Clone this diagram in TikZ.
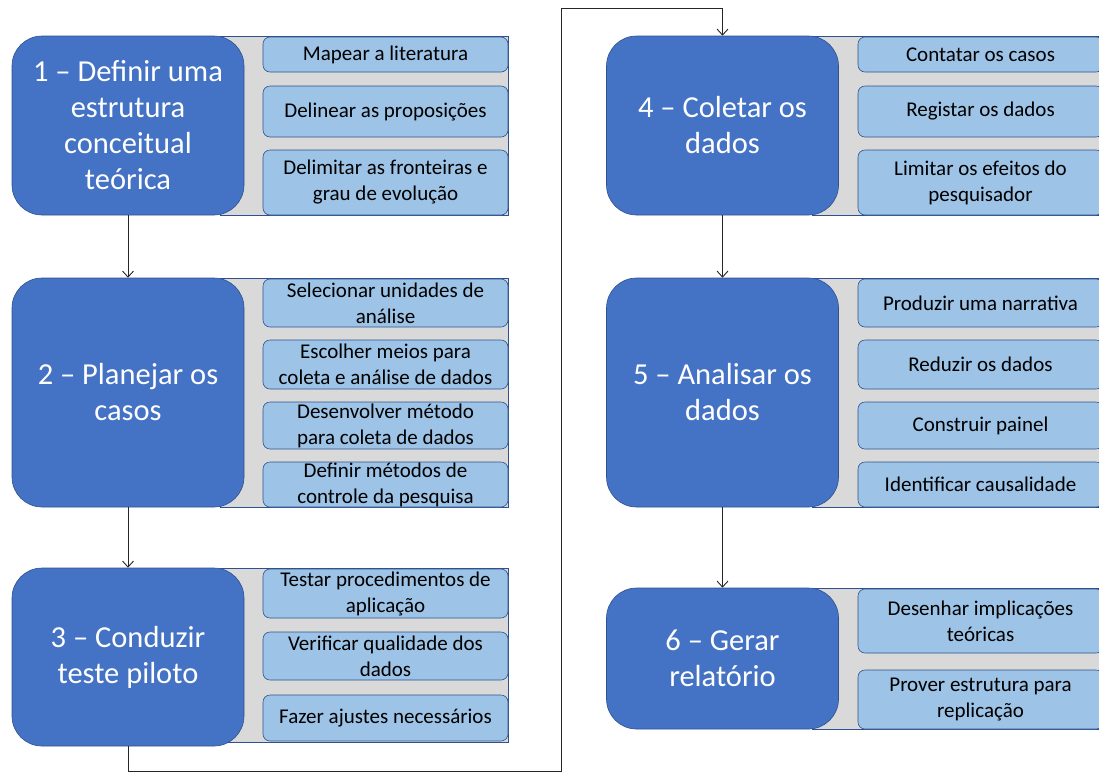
\documentclass[tikz,border=0pt]{standalone}
\usepackage{fontspec}
\setmainfont{Carlito}
\usetikzlibrary{arrows,arrows.meta,positioning}
\definecolor{stepblue}{HTML}{4472C4}
\definecolor{taskblue}{HTML}{9DC3E6}
\definecolor{edgeblue}{HTML}{2F528F}
\definecolor{panelgray}{HTML}{D9D9D9}
\begin{document}
\begin{tikzpicture}[x=1pt,y=-1pt,>={Straight Barb[length=6pt,width=11pt]}]
    \tikzstyle{phase}=[rectangle,rounded corners=30pt,fill=stepblue,draw=edgeblue,line width=0.6pt,
        text=white,minimum width=232pt,inner sep=0pt,align=center,font=\fontsize{30.5}{36}\selectfont]
    \tikzstyle{task}=[rectangle,rounded corners=7pt,fill=taskblue,draw=edgeblue,line width=0.6pt,
        minimum width=245pt,inner sep=0pt,align=center,font=\fontsize{21}{26}\selectfont]
    \tikzstyle{panel}=[fill=panelgray,draw=edgeblue,line width=0.6pt]
    \tikzstyle{flow}=[->,draw=black!85,line width=0.9pt]

    \useasboundingbox (0,0) rectangle (1099,772);
    \clip (0,0) rectangle (1099,772);

    % Grey panels behind each phase
    \draw[panel] (220,36) rectangle (508,215);
    \draw[panel] (220,278) rectangle (508,507);
    \draw[panel] (220,568) rectangle (508,742);
    \draw[panel] (812,36) rectangle (1103,215);
    \draw[panel] (812,278) rectangle (1103,507);
    \draw[panel] (812,588) rectangle (1103,729);

    % The six phases
    \node[phase,minimum height=179pt] (P-1) at (128,125.5) {1 -- Definir uma\\estrutura\\conceitual\\teórica};
    \node[phase,minimum height=229pt] (P-2) at (128,392.5) {2 -- Planejar os\\casos};
    \node[phase,minimum height=178pt] (P-3) at (128,657) {3 -- Conduzir\\teste piloto};
    \node[phase,minimum height=179pt] (P-4) at (722.5,125.5) {4 -- Coletar os\\dados};
    \node[phase,minimum height=229pt] (P-5) at (722.5,392.5) {5 -- Analisar os\\dados};
    \node[phase,minimum height=141pt] (P-6) at (722.5,658.5) {6 -- Gerar\\relatório};

    % Tasks of the left column
    \foreach \name/\y/\h/\txt in {
        1a/54.5/35/{Mapear a literatura},
        1b/111.5/51/{Delinear as proposições},
        1c/182.5/65/{Delimitar as fronteiras e\\grau de evolução},
        2a/303/48/{Selecionar unidades de\\análise},
        2b/364.5/49/{Escolher meios para\\coleta e análise de dados},
        2c/425.5/47/{Desenvolver método\\para coleta de dados},
        2d/484.5/45/{Definir métodos de\\controle da pesquisa},
        3a/593.5/49/{Testar procedimentos de\\aplicação},
        3b/656/48/{Verificar qualidade dos\\dados},
        3c/718/46/{Fazer ajustes necessários}}
        \node[task,minimum height=\h pt] (T-\name) at (385.5,\y) {\txt};

    % Tasks of the right column
    \foreach \name/\y/\h/\txt in {
        4a/54.5/35/{Contatar os casos},
        4b/111.5/51/{Registar os dados},
        4c/182.5/65/{Limitar os efeitos do\\pesquisador},
        5a/303/48/{Produzir uma narrativa},
        5b/364.5/49/{Reduzir os dados},
        5c/425.5/47/{Construir painel},
        5d/484.5/45/{Identificar causalidade},
        6a/621/64/{Desenhar implicações\\teóricas},
        6b/699.5/59/{Prover estrutura para\\replicação}}
        \node[task,minimum height=\h pt] (T-\name) at (980.5,\y) {\txt};

    % Connect the phases
    \draw[flow] (P-1) -- (P-2);
    \draw[flow] (P-2) -- (P-3);
    \draw[flow] (P-4) -- (P-5);
    \draw[flow] (P-5) -- (P-6);

    % Route from phase 3 round to phase 4
    \coordinate (turn-1) at (561,771);
    \coordinate (turn-2) at (561,8);
    \draw[flow] (P-3.south) |- (turn-1) -- (turn-2) -| (P-4.north);
\end{tikzpicture}
\end{document}
